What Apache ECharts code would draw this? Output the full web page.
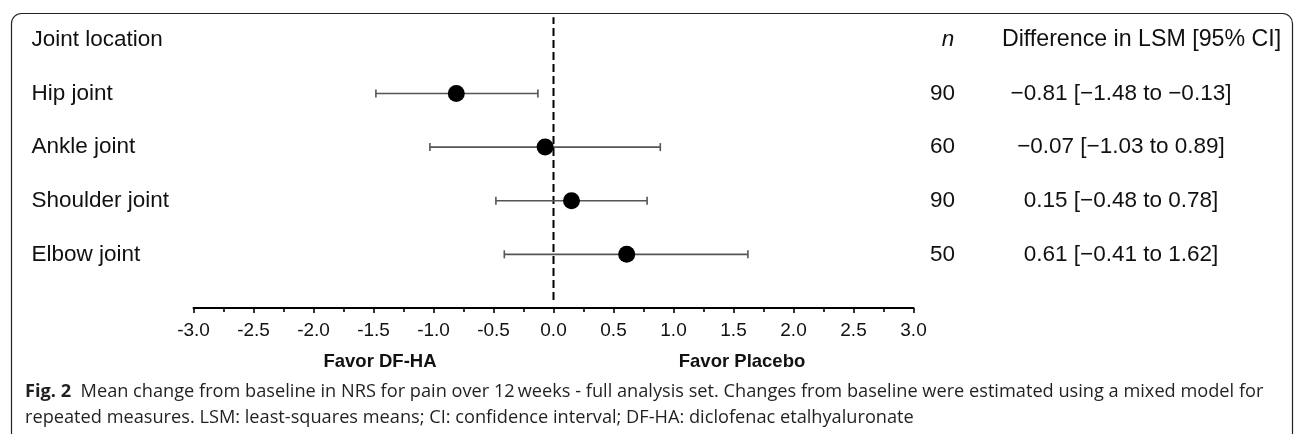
<!DOCTYPE html>
<html><head><meta charset="utf-8">
<script src="https://cdn.jsdelivr.net/npm/echarts@6/dist/echarts.min.js"></script>
<style>html,body{margin:0;padding:0;background:#fff}#c{width:1294px;height:434px}</style>
</head><body><div id="c"></div>
<script>
// ---- data ----
const headerLabels = ['Joint location', 'n', 'Difference in LSM [95% CI]'];
const joints = ['Hip joint', 'Ankle joint', 'Shoulder joint', 'Elbow joint'];
const nValues = [90, 60, 90, 50];
const lsm = [-0.81, -0.07, 0.15, 0.61];
const ciLow = [-1.48, -1.03, -0.48, -0.41];
const ciHigh = [-0.13, 0.89, 0.78, 1.62];
const xTickMin = -3.0, xTickMax = 3.0, xTickStep = 0.5;
const favorLabels = ['Favor DF-HA', 'Favor Placebo'];
const captionBold = 'Fig. 2';
const captionLine1 = 'Mean change from baseline in NRS for pain over 12\u2009weeks - full analysis set. Changes from baseline were estimated using a mixed model for';
const captionLine2 = 'repeated measures. LSM: least-squares means; CI: confidence interval; DF-HA: diclofenac etalhyaluronate';

// ---- helpers ----
const nRows = joints.length;
const headerPos = nRows + 1;
const rowPos = i => nRows - i;
const fmt = v => (v < 0 ? '\u2212' : '') + Math.abs(v).toFixed(2);
const rowOf = v => { const r = Math.round(v); return Math.abs(r - v) < 1e-6 ? r : null; };
const FONT = '"Liberation Sans", Arial, Helvetica, sans-serif';
const CAPFONT = '"Open Sans", "Noto Sans", sans-serif';

const chart = echarts.init(document.getElementById('c'), null, {renderer: 'canvas'});

const yBase = {
  type: 'value', min: 0, max: 5.5, interval: 1,
  axisLine: {show: false}, axisTick: {show: false}, splitLine: {show: false}
};

const option = {
  animation: false,
  backgroundColor: '#fff',
  grid: {left: 193.5, right: 380.5, top: 13, bottom: 126, containLabel: false, outerBoundsMode: 'none'},
  xAxis: {
    type: 'value', min: xTickMin, max: xTickMax, interval: xTickStep,
    axisLine: {show: true, onZero: false, lineStyle: {color: '#000', width: 2}},
    axisTick: {show: true, length: 5, lineStyle: {color: '#000', width: 1.6}},
    minorTick: {show: true, splitNumber: 2, length: 4, lineStyle: {color: '#000', width: 1.6}},
    splitLine: {show: false}, minorSplitLine: {show: false},
    axisLabel: {fontSize: 19, color: '#111', fontFamily: FONT, margin: 13,
      formatter: v => v.toFixed(1)}
  },
  yAxis: [
    Object.assign({}, yBase, {
      position: 'left',
      axisLabel: {align: 'left', margin: 162, fontSize: 22.5, color: '#111', fontFamily: FONT,
        formatter: v => { const r = rowOf(v); if (r === headerPos) return headerLabels[0];
          if (r >= 1 && r <= nRows) return joints[nRows - r]; return ''; }}
    }),
    Object.assign({}, yBase, {
      position: 'right',
      axisLabel: {align: 'center', margin: 29, fontSize: 22.5, color: '#111', fontFamily: FONT,
        formatter: v => { const r = rowOf(v); if (r === headerPos) return '{i|' + headerLabels[1] + '}';
          if (r >= 1 && r <= nRows) return String(nValues[nRows - r]); return ''; },
        rich: {i: {fontStyle: 'italic', fontSize: 22.5, color: '#111', fontFamily: FONT, padding: [0, 0, 0, 11]}}}
    }),
    Object.assign({}, yBase, {
      position: 'right',
      axisLabel: {align: 'center', margin: 207.5, fontSize: 22.5, color: '#111', fontFamily: FONT,
        formatter: v => { const r = rowOf(v); if (r === headerPos) return '{h|' + headerLabels[2] + '}';
          if (r >= 1 && r <= nRows) { const i = nRows - r; return fmt(lsm[i]) + ' [' + fmt(ciLow[i]) + ' to ' + fmt(ciHigh[i]) + ']'; }
          return ''; },
        rich: {h: {fontSize: 23.2, color: '#111', fontFamily: FONT, padding: [0, 0, 0, 41]}}}
    })
  ],
  series: [
    {
      type: 'line', silent: true, symbol: 'none', z: 1,
      data: [[0, 0.15], [0, 5.42]],
      lineStyle: {color: '#000', width: 2, type: [8, 4]}
    },
    {
      type: 'custom', silent: true, z: 2,
      data: joints.map((j, i) => [ciLow[i], ciHigh[i], rowPos(i)]),
      encode: {x: [0, 1], y: 2},
      renderItem: (params, api) => {
        const y = api.value(2);
        const a = api.coord([api.value(0), y]);
        const b = api.coord([api.value(1), y]);
        const h = 4;
        const st = {stroke: '#555', lineWidth: 1.6};
        return {type: 'group', children: [
          {type: 'line', shape: {x1: a[0], y1: a[1], x2: b[0], y2: b[1]}, style: st},
          {type: 'line', shape: {x1: a[0], y1: a[1] - h, x2: a[0], y2: a[1] + h}, style: st},
          {type: 'line', shape: {x1: b[0], y1: b[1] - h, x2: b[0], y2: b[1] + h}, style: st}
        ]};
      }
    },
    {
      type: 'scatter', silent: true, z: 3, symbol: 'circle', symbolSize: 17,
      itemStyle: {color: '#000', opacity: 1},
      data: lsm.map((v, i) => [v, rowPos(i)])
    }
  ],
  graphic: [
    {type: 'rect', silent: true, z: -1,
      shape: {x: 11.5, y: 13.5, width: 1281, height: 432, r: 10},
      style: {fill: 'none', stroke: '#222', lineWidth: 1.2}},
    {type: 'text', silent: true, x: 380, y: 362,
      style: {text: favorLabels[0], font: 'bold 18.5px ' + FONT, fill: '#111', align: 'center', verticalAlign: 'middle'}},
    {type: 'text', silent: true, x: 742, y: 362,
      style: {text: favorLabels[1], font: 'bold 18.5px ' + FONT, fill: '#111', align: 'center', verticalAlign: 'middle'}},
    {type: 'text', silent: true, x: 25, y: 392,
      style: {text: '{b|' + captionBold + '}  ' + captionLine1,
        font: '18.2px ' + CAPFONT, fill: '#231f20', verticalAlign: 'middle',
        rich: {b: {fontWeight: 'bold', fontSize: 18.2, fontFamily: CAPFONT, fill: '#231f20'}}}},
    {type: 'text', silent: true, x: 25, y: 418,
      style: {text: captionLine2,
        font: '18.2px ' + CAPFONT, fill: '#231f20', verticalAlign: 'middle'}}
  ]
};
chart.setOption(option);
</script>
</body></html>
